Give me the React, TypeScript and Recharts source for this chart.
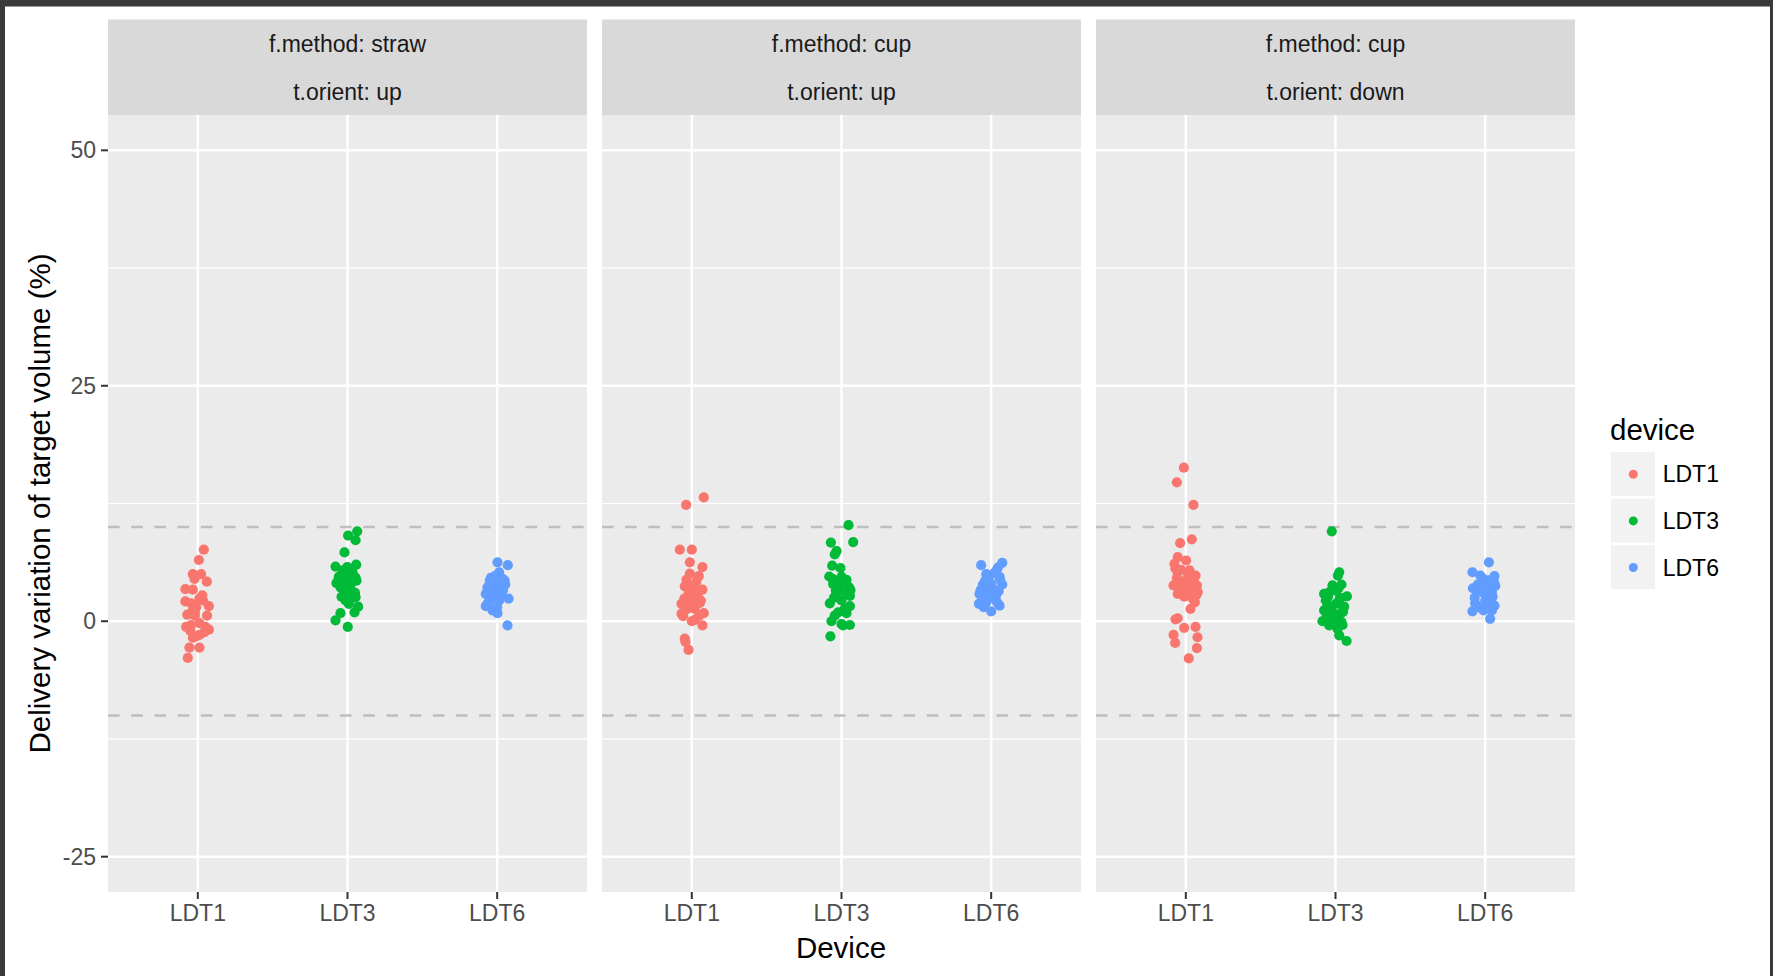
import React from 'react';
import {
  ScatterChart,
  Scatter,
  XAxis,
  YAxis,
  CartesianGrid,
  ReferenceLine,
} from 'recharts';

// ---------- data ----------
const categories = ['LDT1', 'LDT3', 'LDT6'];
const catTicks = [1, 2, 3];
const yTicks = [-25, 0, 25, 50];
const yMinor = [-12.5, 12.5, 37.5];
const yDomain: [number, number] = [-28.75, 53.75];
const xDomain: [number, number] = [0.4, 3.6];
const toleranceLines = [-10, 10];
const deviceColors = ['#F8766D', '#00BA38', '#619CFF'];

const facetMethod = ['straw', 'cup', 'cup'];
const facetOrient = ['up', 'up', 'down'];

// [jitter offset from category, delivery variation %]
const strawUp_LDT1: [number, number][] = [
  [0.04, 7.6], [0.007, 6.5], [-0.033, 5.0], [0.022, 5.0], [-0.022, 4.5], [0.06, 4.2], [-0.083, 3.4],
  [-0.033, 3.35], [0.03, 2.75], [0.011, 2.4], [-0.083, 2.1], [-0.045, 1.9], [0.074, 1.6], [-0.011, 1.5],
  [-0.033, 1.15], [-0.07, 0.7], [-0.02, 0.6], [0.062, 0.6], [0.011, -0.2], [-0.078, -0.6], [-0.045, -0.4],
  [0.074, -0.9], [0.045, -1.15], [0.011, -1.45], [-0.033, -1.75], [-0.011, -1.6], [-0.056, -2.8],
  [0.011, -2.8], [-0.067, -3.9], [0.035, 2.2], [-0.02, 1.0], [0.05, -0.6], [-0.05, -1.0],
];
const strawUp_LDT3: [number, number][] = [
  [0.065, 9.55], [0.054, 8.6], [0.004, 9.1], [-0.02, 7.3], [-0.08, 5.8], [-0.002, 5.75], [0.058, 6.0],
  [-0.058, 4.7], [0.009, 4.7], [0.054, 4.6], [-0.036, 5.0], [-0.074, 4.05], [-0.013, 3.9], [0.031, 4.15],
  [-0.04, 2.6], [0.009, 2.65], [0.054, 2.55], [-0.013, 2.2], [0.009, 1.85], [0.071, 1.55], [0.047, 0.95],
  [-0.047, 0.85], [-0.08, 0.1], [0.002, -0.6], [-0.025, 4.3], [0.02, 3.45], [-0.047, 3.6], [0.031, 5.4],
  [0.0, 4.4], [-0.06, 4.4], [0.04, 4.9], [0.01, 3.3], [-0.02, 2.9], [0.05, 3.0], [-0.03, 5.4], [0.02, 2.35],
  [0.06, 4.3], [-0.01, 5.1],
];
const strawUp_LDT6: [number, number][] = [
  [0.002, 6.25], [0.071, 5.95], [0.013, 5.2], [-0.042, 4.6], [0.036, 4.5], [-0.02, 4.0], [0.054, 3.9],
  [-0.065, 3.6], [-0.009, 3.25], [0.025, 3.6], [-0.076, 2.9], [-0.031, 2.75], [0.076, 2.4], [0.013, 2.2],
  [-0.065, 1.85], [-0.076, 1.6], [-0.031, 1.15], [0.002, 0.85], [0.069, -0.45], [-0.05, 4.3], [-0.03, 3.9],
  [0.0, 3.5], [0.03, 3.0], [-0.06, 3.1], [-0.04, 2.4], [0.02, 2.6], [0.05, 4.3], [-0.015, 4.8], [0.04, 3.35],
  [-0.055, 2.1], [0.0, 1.5],
];
const cupUp_LDT1: [number, number][] = [
  [0.08, 13.15], [-0.038, 12.35], [-0.08, 7.6], [0, 7.6], [-0.013, 6.25], [0.071, 5.75], [-0.013, 5.05],
  [0.047, 4.8], [-0.036, 4.4], [-0.047, 3.7], [0.031, 3.35], [0.071, 3.35], [0, 2.9], [-0.069, 1.85],
  [-0.013, 1.85], [0.054, 1.95], [0.02, 1.3], [-0.069, 0.8], [-0.058, 0.55], [0.08, 0.85], [0, 0],
  [0.02, 0.15], [0.071, -0.45], [-0.047, -1.85], [-0.042, -2.2], [-0.022, -3.05], [0.009, 2.4], [-0.025, 2.55],
  [-0.02, 3.0], [0.04, 2.6], [0.01, 3.7], [-0.05, 2.4], [0.06, 2.2], [-0.03, 1.3], [0.05, 0.6], [0.03, 4.2],
];
const cupUp_LDT3: [number, number][] = [
  [0.047, 10.2], [-0.071, 8.35], [0.078, 8.4], [-0.033, 7.45], [-0.045, 7.1], [-0.062, 5.9], [-0.007, 5.65],
  [-0.082, 4.75], [0, 4.7], [0.033, 4.4], [-0.056, 3.95], [0.011, 3.8], [0.051, 3.6], [-0.038, 3.25],
  [0.056, 2.7], [-0.078, 1.9], [0, 2.2], [0.056, 1.6], [-0.022, 0.95], [-0.045, 0.6], [0.033, 0.85],
  [-0.067, 0], [0.011, -0.45], [0.056, -0.4], [0, -0.3], [-0.074, -1.6], [-0.04, 4.3], [0.03, 4.0],
  [-0.02, 3.1], [0.04, 2.9], [-0.05, 2.5], [0.02, 1.3], [-0.06, 4.5], [0.06, 3.3],
];
const cupUp_LDT6: [number, number][] = [
  [-0.067, 5.95], [0.074, 6.2], [0.045, 5.7], [-0.033, 5.0], [0.022, 5.1], [0.056, 4.7], [-0.056, 3.9],
  [0, 4.0], [0.074, 3.9], [-0.078, 2.9], [-0.022, 3.1], [0.033, 3.25], [-0.082, 1.85], [-0.033, 2.0],
  [0.056, 1.65], [0, 1.05], [-0.045, 3.6], [0.033, 2.75], [-0.04, 4.3], [0.01, 3.5], [0.05, 3.2],
  [-0.06, 2.4], [0.02, 2.4], [0.06, 4.4], [-0.02, 4.6], [0.04, 2.0], [-0.07, 3.3], [0.0, 2.9], [0.03, 5.3],
  [-0.05, 1.5],
];
const cupDown_LDT1: [number, number][] = [
  [-0.013, 16.3], [-0.06, 14.75], [0.051, 12.35], [-0.038, 8.3], [0.04, 8.7], [-0.054, 6.8], [0.002, 6.45],
  [-0.076, 6.1], [-0.031, 5.45], [0.025, 5.4], [0.065, 4.85], [-0.054, 5.2], [0.013, 4.7], [-0.082, 3.8],
  [-0.042, 3.6], [0.036, 3.8], [0.074, 3.8], [0.002, 3.25], [0.08, 3.1], [-0.054, 2.9], [0.047, 2.4],
  [0.069, 2.75], [0.031, 1.3], [-0.054, 0.3], [-0.069, 0.2], [0.065, -0.6], [-0.011, -0.7], [-0.082, -1.45],
  [0.078, -1.7], [-0.071, -2.3], [0.074, -2.85], [0.02, -3.95], [-0.07, 5.6], [-0.02, 4.2], [0.05, 4.4],
  [-0.06, 4.6], [0.03, 3.3], [-0.01, 2.6], [0.06, 2.0], [-0.04, 3.0],
];
const cupDown_LDT3: [number, number][] = [
  [-0.025, 9.55], [0.025, 5.2], [0.016, 4.85], [-0.02, 3.8], [0.04, 3.9], [-0.076, 2.9], [0.002, 3.25],
  [0.076, 2.65], [-0.065, 2.2], [0.025, 2.2], [0.058, 1.55], [-0.076, 1.15], [-0.02, 0.95], [0.036, 0.85],
  [-0.087, 0], [-0.031, 0.45], [-0.042, -0.45], [0.047, -0.4], [0.013, -0.8], [0.025, -1.5], [0.074, -2.1],
  [-0.054, 1.7], [0.002, 1.85], [-0.05, 2.6], [0.03, 2.5], [-0.03, 1.3], [0.05, 1.0], [-0.06, 0.5],
  [0.0, 0.2], [0.04, -0.1], [-0.02, -0.2], [0.02, 3.5], [-0.04, 3.1],
];
const cupDown_LDT6: [number, number][] = [
  [0.025, 6.25], [-0.085, 5.2], [-0.033, 4.85], [0.062, 4.8], [-0.082, 3.5], [-0.022, 4.0], [0.067, 3.75],
  [0.022, 4.35], [-0.045, 3.25], [0.045, 3.1], [-0.067, 1.9], [0, 2.2], [0.062, 1.65], [-0.085, 1.05],
  [-0.011, 1.15], [0.045, 1.15], [0.033, 0.25], [0.011, 2.75], [-0.05, 3.9], [0.03, 3.4], [-0.01, 3.0],
  [0.05, 2.6], [-0.07, 2.5], [0.0, 1.5], [0.03, 2.0], [-0.04, 1.5], [0.06, 4.1], [-0.02, 4.6],
];

const facetData = [
  [strawUp_LDT1, strawUp_LDT3, strawUp_LDT6],
  [cupUp_LDT1, cupUp_LDT3, cupUp_LDT6],
  [cupDown_LDT1, cupDown_LDT3, cupDown_LDT6],
];

// ---------- layout ----------
const FONT = '"Liberation Sans", Arial, Helvetica, sans-serif';
const PANEL_TOP = 115;
const PLOT_H = 777;
const XAXIS_H = 62;
const YAXIS_W = 108;
const PANEL_W = 479;
const panelLefts = [108, 602, 1096];
const STRIP_TOP = 19.5;

const Dot = (color: string) => (props: any) => {
  const { cx, cy } = props;
  if (cx == null || cy == null) return <g />;
  return <circle cx={cx} cy={cy} r={5.1} fill={color} />;
};

function Panel({ index }: { index: number }) {
  const first = index === 0;
  const width = PANEL_W + (first ? YAXIS_W : 0);
  const left = panelLefts[index] - (first ? YAXIS_W : 0);
  return (
    <div style={{ position: 'absolute', left, top: PANEL_TOP }}>
      <ScatterChart
        width={width}
        height={PLOT_H + XAXIS_H}
        margin={{ top: 0, right: 0, bottom: 0, left: 0 }}
      >
        <CartesianGrid fill="#EBEBEB" stroke="none" horizontal={false} vertical={false} />
        <XAxis
          type="number"
          dataKey="x"
          domain={xDomain}
          ticks={catTicks}
          interval={0}
          allowDataOverflow
          height={XAXIS_H}
          axisLine={false}
          tickSize={7}
          tickMargin={6}
          tickLine={{ stroke: '#333333', strokeWidth: 2 }}
          tick={{ fill: '#4D4D4D', fontSize: 23, fontFamily: FONT }}
          tickFormatter={(v: number) => categories[v - 1]}
        />
        <YAxis
          type="number"
          dataKey="y"
          domain={yDomain}
          ticks={yTicks}
          interval={0}
          allowDataOverflow
          hide={!first}
          width={first ? YAXIS_W : 0}
          axisLine={false}
          tickSize={7}
          tickMargin={5}
          tickLine={{ stroke: '#333333', strokeWidth: 2 }}
          tick={{ fill: '#4D4D4D', fontSize: 23, fontFamily: FONT }}
        />
        {yMinor.map((v) => (
          <ReferenceLine key={'mn' + v} y={v} stroke="#FFFFFF" strokeWidth={1.2} />
        ))}
        {yTicks.map((v) => (
          <ReferenceLine key={'mj' + v} y={v} stroke="#FFFFFF" strokeWidth={2.4} />
        ))}
        {catTicks.map((v) => (
          <ReferenceLine key={'vx' + v} x={v} stroke="#FFFFFF" strokeWidth={2.4} />
        ))}
        {toleranceLines.map((v) => (
          <ReferenceLine key={'tl' + v} y={v} stroke="#BEBEBE" strokeWidth={2.5} strokeDasharray="11.6 11.6" />
        ))}
        {facetData[index].map((pts, d) => (
          <Scatter
            key={categories[d]}
            name={categories[d]}
            data={pts.map(([dx, y]) => ({ x: d + 1 + dx, y }))}
            fill={deviceColors[d]}
            shape={Dot(deviceColors[d])}
            isAnimationActive={false}
          />
        ))}
      </ScatterChart>
    </div>
  );
}

export default function App() {
  return (
    <div
      style={{
        position: 'absolute',
        left: 0,
        top: 0,
        width: 1773,
        height: 976,
        background: '#FFFFFF',
        overflow: 'hidden',
        fontFamily: FONT,
      }}
    >
      {/* window frame */}
      <div style={{ position: 'absolute', left: 0, top: 0, width: 1773, height: 6, background: '#3A3A3A' }} />
      <div style={{ position: 'absolute', left: 0, top: 6, width: 1773, height: 1, background: '#9A9A9A' }} />
      <div style={{ position: 'absolute', left: 0, top: 0, width: 5, height: 976, background: '#3A3A3A' }} />
      <div style={{ position: 'absolute', left: 1770, top: 0, width: 3, height: 976, background: '#3A3A3A' }} />

      {[0, 1, 2].map((i) => (
        <Panel key={i} index={i} />
      ))}

      <svg
        width={1773}
        height={976}
        style={{ position: 'absolute', left: 0, top: 0, pointerEvents: 'none' }}
        fontFamily={FONT}
      >
        {/* strips */}
        {[0, 1, 2].map((i) => (
          <g key={'strip' + i}>
            <rect x={panelLefts[i]} y={STRIP_TOP} width={PANEL_W} height={PANEL_TOP - STRIP_TOP} fill="#D9D9D9" />
            <text
              x={panelLefts[i] + PANEL_W / 2}
              y={44}
              textAnchor="middle"
              dominantBaseline="central"
              fontSize={23}
              fill="#1A1A1A"
            >
              {'f.method: ' + facetMethod[i]}
            </text>
            <text
              x={panelLefts[i] + PANEL_W / 2}
              y={91.5}
              textAnchor="middle"
              dominantBaseline="central"
              fontSize={23}
              fill="#1A1A1A"
            >
              {'t.orient: ' + facetOrient[i]}
            </text>
          </g>
        ))}

        {/* axis titles */}
        <text x={841} y={947.5} textAnchor="middle" dominantBaseline="central" fontSize={29.5} fill="#000000">
          Device
        </text>
        <text
          x={39.6}
          y={503.5}
          textAnchor="middle"
          dominantBaseline="central"
          fontSize={29.5}
          fill="#000000"
          transform="rotate(-90 39.6 503.5)"
        >
          Delivery variation of target volume (%)
        </text>

        {/* legend */}
        <text x={1610} y={429} dominantBaseline="central" fontSize={29.5} fill="#000000">
          device
        </text>
        {categories.map((c, i) => (
          <g key={'lg' + c}>
            <rect x={1611} y={452 + i * 46.6} width={44} height={44} fill="#F2F2F2" />
            <circle cx={1633.3} cy={474.3 + i * 46.6} r={4.5} fill={deviceColors[i]} />
            <text x={1662.7} y={474.3 + i * 46.6} dominantBaseline="central" fontSize={23} fill="#000000">
              {c}
            </text>
          </g>
        ))}
      </svg>
    </div>
  );
}
